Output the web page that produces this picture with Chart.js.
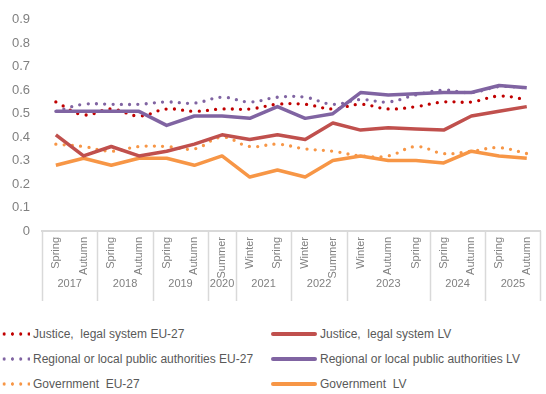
<!DOCTYPE html>
<html>
<head>
<meta charset="utf-8">
<script src="https://cdn.jsdelivr.net/npm/chart.js@4.4.1/dist/chart.umd.min.js"></script>
<style>
  html, body { margin: 0; padding: 0; background: #fff; }
  #wrap { position: relative; width: 546px; height: 394px; overflow: hidden; font-family: "Liberation Sans", Arial, sans-serif; }
  #box { position: absolute; left: 0; top: 0; width: 546px; height: 305px; }
  .lg { position: absolute; height: 16px; line-height: 16px; font-size: 12px; color: #595959; white-space: pre; }
  .lg i { position: absolute; top: 6px; height: 4px; }
  .lg span { position: absolute; top: 0; }
</style>
</head>
<body>
<div id="wrap">
  <div id="box"><canvas id="chart"></canvas></div>
  <div id="legend"></div>
</div>
<script>
  // 調查期別（季節）與年度分組
  var SEASONS = ['Spring', 'Autumn', 'Spring', 'Autumn', 'Spring', 'Autumn', 'Summer',
                 'Winter', 'Spring', 'Winter', 'Summer', 'Winter', 'Autumn', 'Spring',
                 'Spring', 'Autumn', 'Spring', 'Autumn'];
  var YEARS = ['2017', '2018', '2019', '2020', '2021', '2022', '2023', '2024', '2025'];
  var YEAR_SPANS = [2, 2, 2, 1, 2, 2, 3, 2, 2];   // 每年包含幾期
  var Y_TICKS = [0, 0.1, 0.2, 0.3, 0.4, 0.5, 0.6, 0.7, 0.8, 0.9];

  // 各機構信任度：EU-27 平均（點線）與 LV（實線）
  var JUSTICE_EU = [0.55, 0.495, 0.52, 0.49, 0.52, 0.51, 0.52, 0.52, 0.54, 0.54, 0.52, 0.54, 0.52, 0.53, 0.55, 0.55, 0.575, 0.56];
  var JUSTICE_LV = [0.41, 0.32, 0.36, 0.32, 0.34, 0.37, 0.41, 0.39, 0.41, 0.39, 0.46, 0.43, 0.44, 0.435, 0.43, 0.49, 0.51, 0.53];
  var REGIONAL_EU = [0.51, 0.54, 0.54, 0.54, 0.55, 0.545, 0.57, 0.55, 0.57, 0.57, 0.54, 0.56, 0.55, 0.58, 0.60, 0.59, 0.615, 0.61];
  var REGIONAL_LV = [0.51, 0.51, 0.51, 0.51, 0.45, 0.49, 0.49, 0.48, 0.53, 0.48, 0.50, 0.59, 0.58, 0.585, 0.59, 0.59, 0.62, 0.61];
  var GOV_EU = [0.37, 0.36, 0.34, 0.36, 0.36, 0.35, 0.40, 0.36, 0.37, 0.35, 0.34, 0.32, 0.32, 0.36, 0.33, 0.34, 0.355, 0.33];
  var GOV_LV = [0.28, 0.31, 0.28, 0.31, 0.31, 0.28, 0.32, 0.23, 0.26, 0.23, 0.30, 0.32, 0.30, 0.30, 0.29, 0.34, 0.32, 0.31];

  var C_JUST = '#C0504D', C_JUST_EU = '#C00000', C_REG = '#8064A2', C_GOV = '#F79646';
  var AXIS_GRAY = '#808080';

  function solid(label, data, color) {
    return { label: label, data: data, borderColor: color, backgroundColor: color,
             borderWidth: 3.5, pointRadius: 0, tension: 0, borderJoinStyle: 'round' };
  }
  function dotted(label, data, color) {
    return { label: label, data: data, borderColor: color, backgroundColor: color,
             borderWidth: 3.3, pointRadius: 0, tension: 0.4, borderDash: [0, 8.3], borderCapStyle: 'round' };
  }

  // 實線放前面 → 畫在點線上方
  var datasets = [
    solid('Justice,  legal system LV', JUSTICE_LV, C_JUST),
    solid('Regional or local public authorities LV', REGIONAL_LV, C_REG),
    solid('Government  LV', GOV_LV, C_GOV),
    dotted('Justice,  legal system EU-27', JUSTICE_EU, C_JUST_EU),
    dotted('Regional or local public authorities EU-27', REGIONAL_EU, C_REG),
    dotted('Government  EU-27', GOV_EU, C_GOV)
  ];

  // 年度分隔線 + 年份文字（畫在 x 軸下方）
  var yearGroups = {
    id: 'yearGroups',
    afterDraw: function (chart) {
      var xs = chart.scales.x, ctx = chart.ctx;
      var top = xs.top, bottom = top + 70;
      ctx.save();
      ctx.strokeStyle = '#d9d9d9';
      ctx.lineWidth = 1.5;
      ctx.fillStyle = AXIS_GRAY;
      ctx.font = '11px "Liberation Sans", Arial, sans-serif';
      ctx.textAlign = 'center';
      ctx.textBaseline = 'middle';
      var start = 0;
      YEARS.forEach(function (yr, k) {
        var end = start + YEAR_SPANS[k];
        var x0 = xs.getPixelForValue(start - 0.5);
        var x1 = xs.getPixelForValue(end - 0.5);
        ctx.beginPath(); ctx.moveTo(Math.round(x0) + 0.5, top); ctx.lineTo(Math.round(x0) + 0.5, bottom); ctx.stroke();
        if (k === YEARS.length - 1) {
          ctx.beginPath(); ctx.moveTo(Math.round(x1) - 0.5, top); ctx.lineTo(Math.round(x1) - 0.5, bottom); ctx.stroke();
        }
        ctx.fillText(yr, (x0 + x1) / 2, top + 53);
        start = end;
      });
      ctx.restore();
    }
  };

  new Chart(document.getElementById('chart').getContext('2d'), {
    type: 'line',
    data: { labels: SEASONS, datasets: datasets },
    options: {
      responsive: true, maintainAspectRatio: false, animation: false,
      layout: { padding: { top: 5, right: 1, left: 0, bottom: 0 } },
      plugins: { legend: { display: false }, tooltip: { enabled: false } },
      scales: {
        x: {
          type: 'category', offset: true,
          grid: { display: false, drawTicks: false },
          border: { display: true, color: '#d9d9d9', width: 2 },
          ticks: { autoSkip: false, minRotation: 90, maxRotation: 90, padding: 6,
                   color: AXIS_GRAY, font: { family: '"Liberation Sans", Arial, sans-serif', size: 11 } },
          afterFit: function (s) { s.height = 74; }
        },
        y: {
          min: 0, max: 0.9,
          afterBuildTicks: function (s) { s.ticks = Y_TICKS.map(function (v) { return { value: v }; }); },
          grid: { display: false, drawTicks: false },
          border: { display: false },
          ticks: { padding: 12, color: AXIS_GRAY, font: { family: '"Liberation Sans", Arial, sans-serif', size: 13 },
                   callback: function (v) { return v === 0 ? '0' : v.toFixed(1); } },
          afterFit: function (s) { s.width = 42; }
        }
      }
    },
    plugins: [yearGroups]
  });

  // 圖例：左欄 EU-27（點線），右欄 LV（實線）
  var legendRows = [
    [datasets[3], datasets[0]],
    [datasets[4], datasets[1]],
    [datasets[5], datasets[2]]
  ];
  var ROW_Y = [326, 351, 376];
  var lg = document.getElementById('legend');
  legendRows.forEach(function (pair, r) {
    pair.forEach(function (ds, c) {
      var item = document.createElement('div');
      item.className = 'lg';
      item.style.top = ROW_Y[r] + 'px';
      item.style.left = (c === 0 ? 0 : 270) + 'px';
      var mark = document.createElement('i');
      if (c === 0) {
        mark.style.left = '0px'; mark.style.width = '30px';
        mark.style.background = 'radial-gradient(circle, ' + ds.borderColor + ' 1.4px, transparent 1.9px) 0 0 / 8.3px 4px repeat-x';
      } else {
        mark.style.left = '1px'; mark.style.width = '46px'; mark.style.height = '3.5px'; mark.style.top = '6px';
        mark.style.borderRadius = '2px'; mark.style.background = ds.borderColor;
      }
      var txt = document.createElement('span');
      txt.style.left = (c === 0 ? 33 : 50) + 'px';
      txt.textContent = ds.label;
      item.appendChild(mark); item.appendChild(txt);
      lg.appendChild(item);
    });
  });
</script>
</body>
</html>
